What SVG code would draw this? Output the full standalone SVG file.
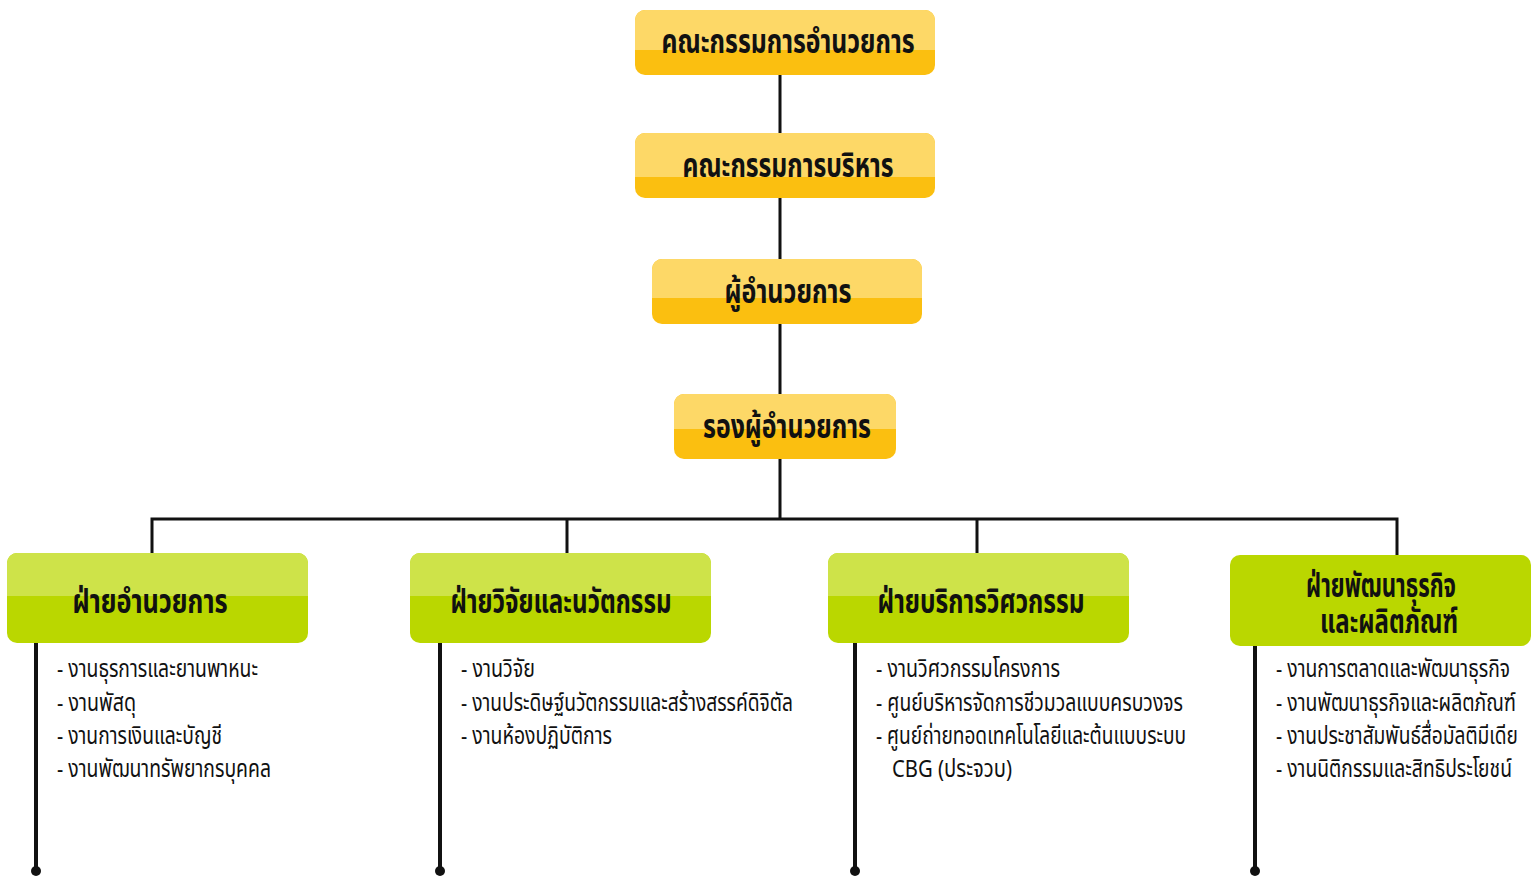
<svg xmlns="http://www.w3.org/2000/svg" width="1534" height="877" viewBox="0 0 1534 877">
<defs>
<style>
.lnk{stroke:#111;stroke-width:3;fill:none}
.lnk4{stroke:#111;stroke-width:4;fill:none}
.dot{fill:#111}
.yt{fill:#FDD867}
.yb{fill:#FBBF10}
.gt{fill:#CEE349}
.gb{fill:#BAD700}
.h{font-family:"Noto Sans Thai","Noto Sans","DejaVu Sans",sans-serif;font-weight:bold;font-size:33px;fill:#111;text-anchor:middle}
.s{font-family:"Noto Sans Thai","Noto Sans","DejaVu Sans",sans-serif;font-size:24px;fill:#111}
</style>
<clipPath id="c1"><rect x="635" y="10" width="300" height="65" rx="10"/></clipPath>
<clipPath id="c2"><rect x="635" y="133" width="300" height="65" rx="10"/></clipPath>
<clipPath id="c3"><rect x="652" y="259" width="270" height="65" rx="10"/></clipPath>
<clipPath id="c4"><rect x="674" y="394" width="222" height="65" rx="10"/></clipPath>
<clipPath id="g1"><rect x="7" y="553" width="301" height="90" rx="10"/></clipPath>
<clipPath id="g2"><rect x="410" y="553" width="301" height="90" rx="10"/></clipPath>
<clipPath id="g3"><rect x="828" y="553" width="301" height="90" rx="10"/></clipPath>
</defs>
<rect width="1534" height="877" fill="#fff"/>
<g id="connectors">
<line class="lnk" x1="780" y1="75" x2="780" y2="519"/>
<polyline class="lnk" points="152,553 152,519 1397,519 1397,555"/>
<line class="lnk" x1="567" y1="519" x2="567" y2="553"/>
<line class="lnk" x1="977" y1="519" x2="977" y2="553"/>
<line class="lnk4" x1="36" y1="643" x2="36" y2="871"/>
<circle class="dot" cx="36" cy="871" r="5"/>
<line class="lnk4" x1="440" y1="643" x2="440" y2="871"/>
<circle class="dot" cx="440" cy="871" r="5"/>
<line class="lnk4" x1="855" y1="643" x2="855" y2="871"/>
<circle class="dot" cx="855" cy="871" r="5"/>
<line class="lnk4" x1="1255" y1="646" x2="1255" y2="871"/>
<circle class="dot" cx="1255" cy="871" r="5"/>
</g>
<g id="board">
<g clip-path="url(#c1)"><rect class="yb" x="635" y="10" width="300" height="65"/><rect class="yt" x="635" y="10" width="300" height="40"/></g>
<text class="h" x="788" y="53" textLength="253" lengthAdjust="spacingAndGlyphs">คณะกรรมการอำนวยการ</text>
</g>
<g id="exec">
<g clip-path="url(#c2)"><rect class="yb" x="635" y="133" width="300" height="65"/><rect class="yt" x="635" y="133" width="300" height="44"/></g>
<text class="h" x="788" y="177" textLength="211" lengthAdjust="spacingAndGlyphs">คณะกรรมการบริหาร</text>
</g>
<g id="director">
<g clip-path="url(#c3)"><rect class="yb" x="652" y="259" width="270" height="65"/><rect class="yt" x="652" y="259" width="270" height="39"/></g>
<text class="h" x="788" y="303" textLength="127" lengthAdjust="spacingAndGlyphs">ผู้อำนวยการ</text>
</g>
<g id="deputy">
<g clip-path="url(#c4)"><rect class="yb" x="674" y="394" width="222" height="65"/><rect class="yt" x="674" y="394" width="222" height="35"/></g>
<text class="h" x="787" y="438" textLength="168" lengthAdjust="spacingAndGlyphs">รองผู้อำนวยการ</text>
</g>
<g id="admin">
<g clip-path="url(#g1)"><rect class="gb" x="7" y="553" width="301" height="90"/><rect class="gt" x="7" y="553" width="301" height="43"/></g>
<text class="h" x="150" y="613" textLength="155" lengthAdjust="spacingAndGlyphs">ฝ่ายอำนวยการ</text>
<text class="s" x="57" y="677" textLength="201" lengthAdjust="spacingAndGlyphs">- งานธุรการและยานพาหนะ</text>
<text class="s" x="57" y="711" textLength="79" lengthAdjust="spacingAndGlyphs">- งานพัสดุ</text>
<text class="s" x="57" y="744" textLength="165" lengthAdjust="spacingAndGlyphs">- งานการเงินและบัญชี</text>
<text class="s" x="57" y="777" textLength="214" lengthAdjust="spacingAndGlyphs">- งานพัฒนาทรัพยากรบุคคล</text>
</g>
<g id="research">
<g clip-path="url(#g2)"><rect class="gb" x="410" y="553" width="301" height="90"/><rect class="gt" x="410" y="553" width="301" height="43"/></g>
<text class="h" x="561" y="613" textLength="221" lengthAdjust="spacingAndGlyphs">ฝ่ายวิจัยและนวัตกรรม</text>
<text class="s" x="461" y="677" textLength="74" lengthAdjust="spacingAndGlyphs">- งานวิจัย</text>
<text class="s" x="461" y="711" textLength="332" lengthAdjust="spacingAndGlyphs">- งานประดิษฐ์นวัตกรรมและสร้างสรรค์ดิจิตัล</text>
<text class="s" x="461" y="744" textLength="151" lengthAdjust="spacingAndGlyphs">- งานห้องปฏิบัติการ</text>
</g>
<g id="engineering">
<g clip-path="url(#g3)"><rect class="gb" x="828" y="553" width="301" height="90"/><rect class="gt" x="828" y="553" width="301" height="43"/></g>
<text class="h" x="981" y="613" textLength="207" lengthAdjust="spacingAndGlyphs">ฝ่ายบริการวิศวกรรม</text>
<text class="s" x="876" y="677" textLength="184" lengthAdjust="spacingAndGlyphs">- งานวิศวกรรมโครงการ</text>
<text class="s" x="876" y="711" textLength="307" lengthAdjust="spacingAndGlyphs">- ศูนย์บริหารจัดการชีวมวลแบบครบวงจร</text>
<text class="s" x="876" y="744" textLength="310" lengthAdjust="spacingAndGlyphs">- ศูนย์ถ่ายทอดเทคโนโลยีและต้นแบบระบบ</text>
<text class="s" x="892" y="777" textLength="120" lengthAdjust="spacingAndGlyphs">CBG (ประจวบ)</text>
</g>
<g id="business">
<rect class="gb" x="1230" y="555" width="301" height="91" rx="10"/>
<text class="h"><tspan x="1381" y="597" textLength="150" lengthAdjust="spacingAndGlyphs">ฝ่ายพัฒนาธุรกิจ</tspan><tspan x="1389" y="633" textLength="138" lengthAdjust="spacingAndGlyphs">และผลิตภัณฑ์</tspan></text>
<g transform="translate(1276 0) scale(0.82 1)">
<text class="s" x="0" y="677" textLength="285.4" lengthAdjust="spacingAndGlyphs">- งานการตลาดและพัฒนาธุรกิจ</text>
<text class="s" x="0" y="711" textLength="292.7" lengthAdjust="spacingAndGlyphs">- งานพัฒนาธุรกิจและผลิตภัณฑ์</text>
<text class="s" x="0" y="744" textLength="295.1" lengthAdjust="spacingAndGlyphs">- งานประชาสัมพันธ์สื่อมัลติมีเดีย</text>
<text class="s" x="0" y="777" textLength="287.8" lengthAdjust="spacingAndGlyphs">- งานนิติกรรมและสิทธิประโยชน์</text>
</g>
</g>
</svg>
